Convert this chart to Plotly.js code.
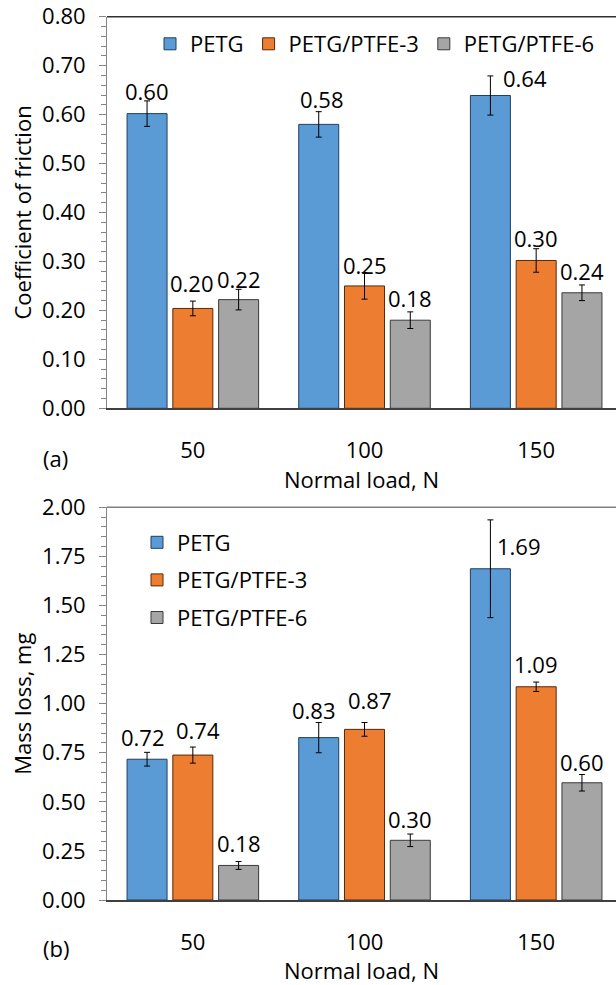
<!DOCTYPE html>
<html><head><meta charset="utf-8">
<script src="https://cdn.plot.ly/plotly-3.0.1.min.js"></script>
<style>html,body{margin:0;padding:0;background:#fff;overflow:hidden}#chart{width:616px;height:985px}</style>
</head><body><div id="chart"></div>
<script>
const loads = ['50', '100', '150'];
const seriesNames = ['PETG', 'PETG/PTFE-3', 'PETG/PTFE-6'];
const colors = ['#5B9BD5', '#ED7D31', '#A5A5A5'];
const edgeColors = ['#1F3F60', '#5A2A08', '#3A3A3A'];

// (a) coefficient of friction
const cofPETG = [0.602, 0.580, 0.639];
const cofPTFE3 = [0.204, 0.250, 0.302];
const cofPTFE6 = [0.222, 0.180, 0.236];
const cofErrPETG = [0.026, 0.026, 0.040];
const cofErrPTFE3 = [0.015, 0.027, 0.024];
const cofErrPTFE6 = [0.021, 0.017, 0.016];

// (b) mass loss, mg
const massPETG = [0.717, 0.827, 1.687];
const massPTFE3 = [0.738, 0.869, 1.086];
const massPTFE6 = [0.176, 0.304, 0.597];
const massErrPETG = [0.035, 0.077, 0.249];
const massErrPTFE3 = [0.041, 0.035, 0.024];
const massErrPTFE6 = [0.020, 0.032, 0.042];

const FONT = 'Open Sans, Noto Sans, sans-serif';
const FS = 22;

// label pixel offsets (style only)
const cofShiftY = [[23, 25, 18], [25, 21, 22], [21, 22, 22]];
const cofShiftX = [[0, 3, 35], [-1, 0, 0], [0, 0, 0]];
const massShiftY = [[22, 28, 23], [25, 29, 23], [22, 21, 21]];
const massShiftX = [[-4, -5, 29], [5, 5, 0], [0, 0, 0]];

const cofVals = [cofPETG, cofPTFE3, cofPTFE6];
const cofErrs = [cofErrPETG, cofErrPTFE3, cofErrPTFE6];
const massVals = [massPETG, massPTFE3, massPTFE6];
const massErrs = [massErrPETG, massErrPTFE3, massErrPTFE6];

const traces = [];
const annotations = [];
function addSet(vals, errs, xa, ya, legendId, grp, shY, shX) {
  vals.forEach((v, s) => {
    traces.push({
      type: 'bar', x: loads, y: v, name: seriesNames[s],
      xaxis: xa, yaxis: ya, legend: legendId, legendgroup: grp + s,
      marker: {color: colors[s], line: {color: edgeColors[s], width: 1}},
      error_y: {type: 'data', array: errs[s], visible: true, color: '#000', thickness: 1, width: 3},
      hoverinfo: 'y'
    });
    v.forEach((val, i) => {
      annotations.push({
        xref: xa, yref: ya, x: i + (s - 1) * 0.8 / 3, y: val,
        text: val.toFixed(2), showarrow: false, yanchor: 'middle', xanchor: 'center',
        xshift: shX[s][i], yshift: shY[s][i],
        font: {family: FONT, size: FS, color: '#000'}
      });
    });
  });
}
addSet(cofVals, cofErrs, 'x', 'y', 'legend', 'a', cofShiftY, cofShiftX);
addSet(massVals, massErrs, 'x2', 'y2', 'legend2', 'b', massShiftY, massShiftX);

annotations.push({xref: 'paper', yref: 'paper', x: 41 / 616, y: 1 - 458 / 985, text: '(a)', showarrow: false,
  yanchor: 'middle', font: {family: FONT, size: FS, color: '#000'}});
annotations.push({xref: 'paper', yref: 'paper', x: 41 / 616, y: 1 - 948 / 985, text: '(b)', showarrow: false,
  yanchor: 'middle', font: {family: FONT, size: FS, color: '#000'}});

const xL = 107 / 616;
const topDom = [1 - 408.3 / 985, 1 - 16.7 / 985];
const botDom = [1 - 900 / 985, 1 - 507.3 / 985];

function xAxis(anchor) {
  return {
    domain: [xL, 1], anchor: anchor, type: 'category', range: [-0.5, 2.465],
    showline: true, linecolor: '#404040', linewidth: 1.5, ticks: '', ticklabelstandoff: 22,
    tickfont: {family: FONT, size: FS, color: '#000'},
    title: {text: 'Normal load, N', font: {family: FONT, size: FS, color: '#000'}, standoff: 0},
    showgrid: false, zeroline: false, fixedrange: true
  };
}
function yAxis(anchor, dom, rng, dt, mdt, title) {
  return {
    domain: dom, anchor: anchor, range: rng, dtick: dt, tickformat: '.2f',
    showline: true, linecolor: '#868686', linewidth: 1, ticks: 'outside', ticklen: 7, tickcolor: '#868686',
    ticklabelstandoff: 9,
    minor: {ticks: 'outside', ticklen: 5, dtick: mdt, tickcolor: '#868686', showgrid: false},
    tickfont: {family: FONT, size: FS, color: '#000'},
    title: {text: title, font: {family: FONT, size: FS, color: '#000'}, standoff: 4},
    showgrid: false, zeroline: false, fixedrange: true
  };
}

const layout = {
  width: 616, height: 985, margin: {l: 0, r: 0, t: 0, b: 0},
  paper_bgcolor: '#fff', plot_bgcolor: '#fff',
  barmode: 'group', bargap: 0.2, bargroupgap: 0.126,
  font: {family: FONT, size: FS, color: '#000'},
  xaxis: xAxis('y'),
  yaxis: yAxis('x', topDom, [0, 0.8], 0.1, 0.02, 'Coefficient of friction'),
  xaxis2: xAxis('y2'),
  yaxis2: yAxis('x2', botDom, [0, 2], 0.25, 0.05, 'Mass loss, mg'),
  legend: {orientation: 'h', x: 150 / 616, y: 1 - 44 / 985, xanchor: 'left', yanchor: 'middle',
    font: {family: FONT, size: FS, color: '#000'}, bgcolor: 'rgba(0,0,0,0)', itemwidth: 30, tracegroupgap: 0},
  legend2: {orientation: 'v', x: 137 / 616, y: 1 - 580 / 985, xanchor: 'left', yanchor: 'middle',
    font: {family: FONT, size: FS, color: '#000'}, bgcolor: 'rgba(0,0,0,0)', itemwidth: 30, tracegroupgap: 6},
  shapes: [
    {type: 'line', xref: 'paper', yref: 'paper', x0: xL, x1: 1, y0: topDom[1], y1: topDom[1], line: {color: '#303030', width: 1.5}},
    {type: 'line', xref: 'paper', yref: 'paper', x0: xL, x1: 1, y0: botDom[1], y1: botDom[1], line: {color: '#808080', width: 1.5}}
  ],
  annotations: annotations,
  showlegend: true
};

Plotly.newPlot('chart', traces, layout, {staticPlot: true, displayModeBar: false});
</script>
</body></html>
